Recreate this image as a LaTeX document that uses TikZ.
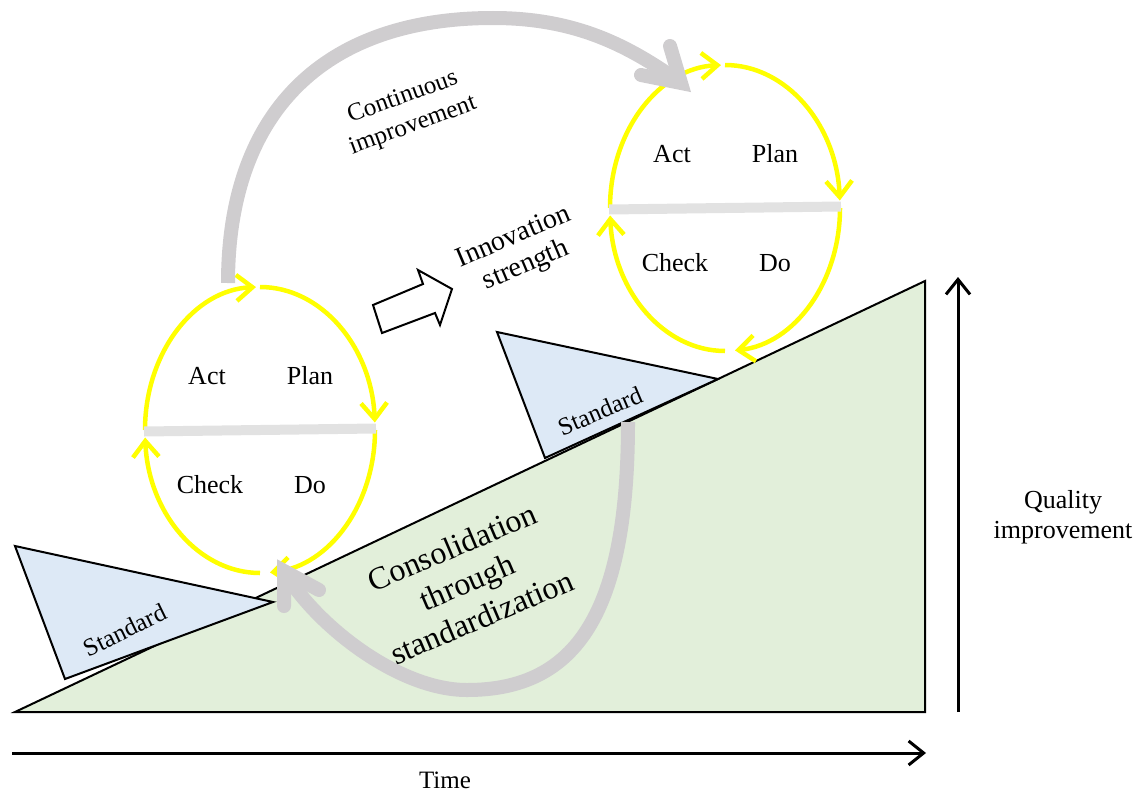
\documentclass[tikz,border=0pt]{standalone}
\usepackage{fontspec}
\setmainfont{Liberation Serif}
\usetikzlibrary{arrows.meta}

\definecolor{cycyellow}{RGB}{255,255,0}
\definecolor{bargray}{RGB}{226,226,226}
\definecolor{arcgray}{RGB}{207,205,207}
\definecolor{stdblue}{RGB}{221,233,246}
\definecolor{slopegreen}{RGB}{226,239,218}

\begin{document}
\begin{tikzpicture}[x=1pt,y=-1pt,
  cyc/.style={draw=cycyellow, line width=4.5pt, -{Straight Barb[length=16pt,width=26pt]}},
  cycbar/.style={draw=bargray, line width=10pt},
  lbl/.style={font=\fontsize{26}{30}\selectfont, anchor=base, inner sep=0pt},
  txt/.style={align=center, inner sep=0pt},
  tri/.style={draw=black, fill=stdblue, line width=2pt, line join=miter},
  garc/.style={draw=arcgray, line width=14pt},
  gbarb/.style={draw=arcgray, line width=14pt, line cap=round, line join=miter, miter limit=20},
  axis/.style={draw=black, line width=3pt, -{Straight Barb[length=15pt,width=24pt]}},
  pics/pdca/.style={code={
    % four quarter arcs running clockwise on the page
    \draw[cyc] (180:115 and 143) arc[start angle=180, end angle=268, x radius=115, y radius=143];
    \draw[cyc] (270:115 and 143) arc[start angle=270, end angle=357, x radius=115, y radius=143];
    \draw[cyc] (0:115 and 143)   arc[start angle=0,   end angle=85,  x radius=115, y radius=143];
    \draw[cyc] (90:115 and 143)  arc[start angle=90,  end angle=177, x radius=115, y radius=143];
    % dividing bar
    \draw[cycbar] (-116,1.5) -- (116,-1.5);
    % quadrant labels
    \node[lbl] (-act)   at (-53,-46) {Act};
    \node[lbl] (-plan)  at (50,-46)  {Plan};
    \node[lbl] (-check) at (-50,63)  {Check};
    \node[lbl] (-do)    at (50,63)   {Do};
  }}
]
\useasboundingbox (0,0) rectangle (1139,792);

% rising quality wedge
\filldraw[draw=black, fill=slopegreen, line width=2pt, line join=miter]
  (15,712) -- (925,712) -- (925,281) -- cycle;

% standards acting as wedges
\filldraw[tri] (15,546) -- (273,602) -- (65,679) -- cycle;
\filldraw[tri] (497,332) -- (718,379) -- (545,458) -- cycle;

% PDCA cycles
\pic (L) at (260,430) {pdca};
\pic (R) at (725,208) {pdca};

% continuous improvement arc
\coordinate (ciS) at (228,283);
\coordinate (ciT) at (493,18);
\coordinate (ciV) at (681,83);
\draw[garc] (ciS) .. controls (228,113) and (323,18) .. (ciT)
                  .. controls (575,18) and (628,45) .. (ciV);
\draw[gbarb] (670,46) -- (ciV) -- (641,75);

% consolidation arc
\coordinate (csS) at (628,422);
\coordinate (csB) at (467,690);
\coordinate (csV) at (284,571);
\draw[garc] (csS) .. controls (628,612) and (577,690) .. (csB)
                  .. controls (397,690) and (314,623) .. (csV);
\draw[gbarb] (284,606) -- (csV) -- (319,590);

% innovation block arrow
\filldraw[draw=black, fill=white, line width=2pt, line join=miter]
  (373,305) -- (423,284) -- (418,270) -- (452,289) -- (440,325) -- (435,313) -- (382,333) -- cycle;

% axes
\coordinate (t0) at (12,753);
\coordinate (t1) at (926,753);
\coordinate (q0) at (958,712);
\coordinate (q1) at (958,277);
\draw[axis] (t0) -- (t1);
\draw[axis] (q0) -- (q1);

% labels
\node[txt, rotate=20, font=\fontsize{25}{30}\selectfont] (ci) at (408,112) {Continuous\\improvement};
\node[txt, rotate=23, font=\fontsize{28}{31}\selectfont] (inn) at (520,252) {Innovation\\strength};
\node[txt, rotate=23, font=\fontsize{32}{38}\selectfont] (cons) at (467,582) {Consolidation\\through\\standardization};
\node[txt, rotate=26, font=\fontsize{25}{30}\selectfont] (stdA) at (125,630) {Standard};
\node[txt, rotate=23, font=\fontsize{25}{30}\selectfont] (stdB) at (600,411) {Standard};
\node[txt, font=\fontsize{26}{30}\selectfont] (qi) at (1063,517) {Quality\\improvement};
\node[txt, font=\fontsize{25}{30}\selectfont] (time) at (445,780) {Time};
\end{tikzpicture}
\end{document}
